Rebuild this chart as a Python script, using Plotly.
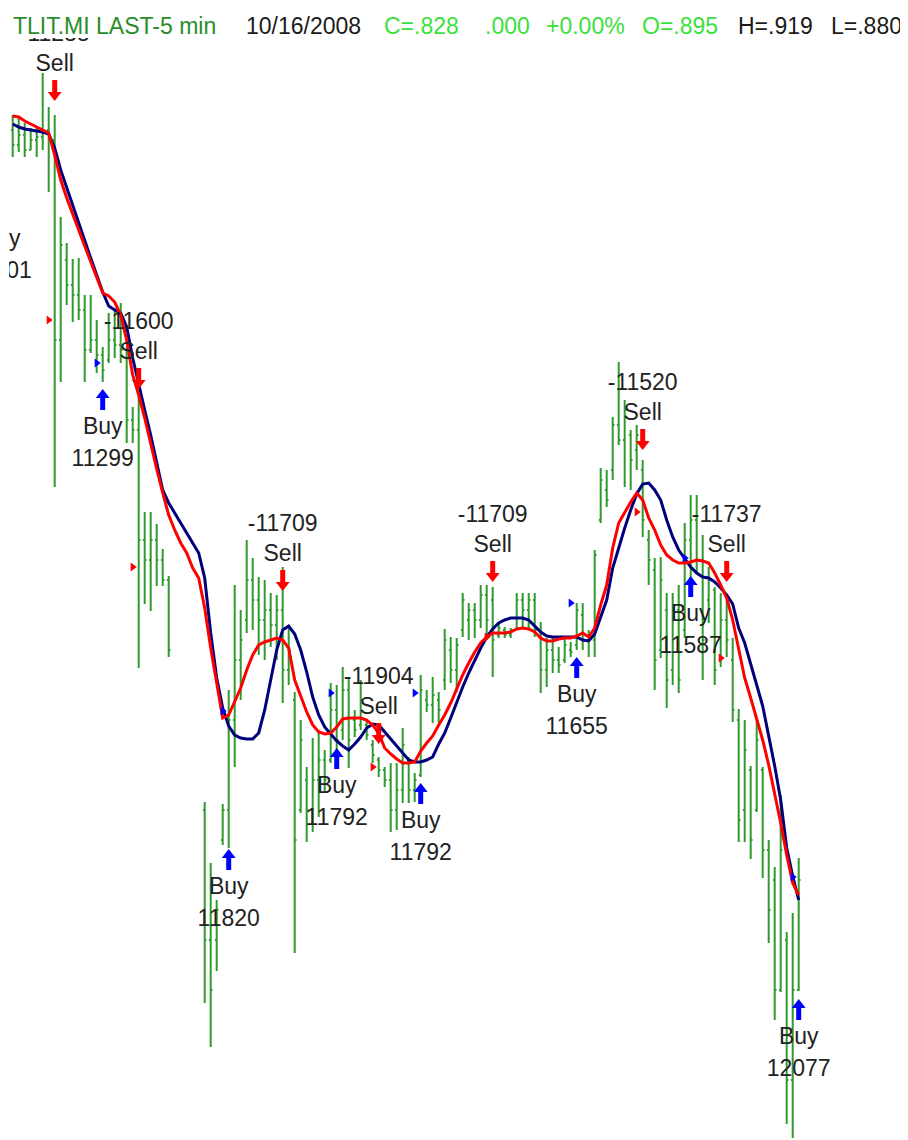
import plotly.graph_objects as go

# ---------------- data (price levels in chart units) ----------------
bar_no = list(range(0, 27)) + list(range(32, 132))

bar_high = [1025, 1022, 1017, 1012, 1012, 1067, 1033, 1025, 923, 897, 881, 882, 845, 845, 820, 793, 827, 832,
            837, 793, 733, 745, 628, 628, 616, 591, 564,
            338, 277, 240, 336, 450, 555, 530, 600, 582, 563, 560, 547, 545, 573, 513, 448, 420, 373, 402, 410,
            390, 457, 455, 473, 463, 430, 460, 420, 400, 383, 373, 377, 377, 412, 383, 367, 465, 450, 463, 448,
            511, 503, 502, 547, 537, 537, 555, 555, 553, 518, 513, 512, 547, 547, 547, 547, 518, 502, 502, 493,
            503, 498, 537, 537, 510, 590, 672, 670, 723, 778, 740, 710, 715, 680, 610, 582, 583, 547, 547, 555,
            617, 645, 645, 605, 573, 553, 547, 540, 502, 431, 420, 374, 420, 373, 300, 273, 345, 208, 227, 282]
bar_low = [983, 988, 983, 990, 983, 990, 948, 653, 758, 835, 818, 820, 758, 787, 767, 758, 777, 782,
           777, 697, 697, 472, 536, 529, 554, 554, 483,
           137, 93, 169, 295, 292, 373, 440, 507, 510, 485, 480, 493, 480, 437, 455, 187, 327, 298, 308, 323,
           347, 377, 373, 400, 372, 403, 410, 400, 377, 363, 353, 308, 310, 337, 337, 338, 363, 428, 417, 417,
           450, 457, 448, 503, 500, 502, 512, 500, 463, 502, 502, 502, 510, 513, 510, 503, 447, 453, 467, 467,
           477, 483, 490, 490, 483, 483, 617, 633, 660, 695, 653, 650, 670, 603, 555, 450, 482, 432, 455, 447,
           502, 557, 567, 460, 517, 455, 473, 483, 418, 298, 298, 281, 328, 262, 197, 120, 148, 16, 2, 149]
bar_open = [1010, 995, 1005, 990, 1000, 1003, 1010, 1000, 800, 880, 855, 845, 830, 790, 800, 785, 780, 800,
            795, 790, 720, 710, 600, 580, 600, 580, 560,
            330, 200, 200, 300, 330, 420, 480, 520, 560, 540, 520, 530, 515, 530, 470, 440, 330, 360, 330, 360,
            380, 380, 430, 410, 450, 420, 415, 415, 395, 380, 370, 360, 330, 350, 380, 350, 365, 440, 435, 440,
            460, 490, 470, 510, 520, 530, 520, 545, 540, 505, 510, 505, 510, 540, 530, 540, 510, 470, 490, 480,
            480, 490, 495, 525, 500, 500, 620, 650, 670, 715, 700, 705, 690, 670, 600, 570, 490, 530, 470, 530,
            510, 600, 620, 580, 540, 550, 480, 520, 480, 420, 330, 370, 330, 370, 290, 260, 150, 200, 60, 150]
bar_close = [995, 1005, 990, 1000, 1003, 1010, 1000, 800, 895, 855, 845, 830, 790, 800, 785, 770, 800, 795,
             790, 720, 710, 600, 580, 600, 580, 560, 490,
             200, 150, 230, 330, 420, 480, 500, 560, 540, 520, 530, 515, 530, 470, 490, 300, 400, 330, 360, 380,
             360, 430, 400, 450, 400, 410, 440, 405, 385, 370, 360, 330, 350, 395, 350, 360, 450, 435, 445, 430,
             500, 470, 495, 540, 530, 520, 545, 520, 500, 512, 505, 510, 540, 530, 540, 510, 470, 490, 480, 475,
             495, 488, 530, 500, 505, 585, 660, 640, 715, 700, 730, 680, 705, 620, 580, 480, 560, 460, 530, 460,
             600, 620, 580, 500, 560, 470, 520, 500, 430, 320, 390, 300, 400, 290, 230, 150, 290, 60, 150, 260]

ma_no = list(range(0, 132))
ma_fast = [1024, 1023, 1019, 1016, 1013, 1010, 1007, 985, 960, 942,
           927, 910, 894, 878, 862, 847, 844, 838, 825, 800,
           765, 745, 722, 695, 671, 647, 625, 610, 597, 587,
           572, 562, 532, 492, 458, 422, 425, 438, 452, 470,
           485, 495, 498, 500, 502, 500, 492, 460, 443, 428,
           415, 408, 406, 407, 413, 421, 422, 422, 422, 420,
           415, 407, 392, 386, 381, 377, 377, 378, 389, 397,
           404, 415, 425, 437, 452, 465, 477, 488, 497, 503,
           507, 507, 507, 508, 511, 512, 511, 508, 502, 499,
           499, 501, 502, 502, 504, 507, 503, 512, 535, 555,
           592, 617, 628, 638, 647, 640, 622, 610, 595, 585,
           580, 577, 577, 578, 580, 579, 577, 567, 555, 542,
           520, 490, 462, 442, 422, 400, 375, 347, 317, 285,
           257, 245]
ma_slow = [1016, 1013, 1011, 1010, 1009, 1008, 1006, 992, 970, 952,
           935, 918, 900, 882, 865, 848, 834, 830, 827, 813,
           782, 755, 730, 705, 678, 650, 637, 627, 618, 607,
           597, 587, 562, 507, 462, 432, 414, 405, 402, 401,
           401, 407, 430, 460, 490, 510, 514, 506, 490, 468,
           443, 425, 413, 406, 399, 394, 390, 396, 403, 412,
           416, 415, 408, 402, 394, 387, 380, 378, 378, 380,
           383, 396, 407, 422, 438, 453, 467, 480, 492, 503,
           511, 517, 520, 522, 522, 522, 520, 514, 508, 504,
           503, 503, 503, 503, 503, 500, 499, 506, 523, 540,
           572, 593, 612, 630, 646, 656, 657, 650, 640, 620,
           603, 590, 582, 573, 567, 563, 562, 558, 552, 545,
           536, 512, 497, 477, 455, 434, 405, 374, 340, 292,
           264, 240]

sell_bar = [7, 21, 45, 61, 80, 105, 119]
sell_level = [1048, 760, 558, 405, 567, 699, 567]
sell_text = ["-11288", "-11600", "-11709", "-11904", "-11709", "-11520", "-11737"]

buy_bar = [-2, 15, 36, 54, 68, 94, 113, 131]
buy_level = [930, 742, 282, 383, 348, 474, 555, 132]
buy_text = ["11301", "11299", "11820", "11792", "11792", "11655", "11587", "12077"]

stop_red_bar = [6, 20, 60, 79, 104, 118]
stop_red_level = [820, 573, 373, 503, 628, 482]
stop_blue_bar = [14, 35, 53, 67, 93, 112, 130]
stop_blue_level = [777, 429, 447, 447, 537, 582, 263]

header = [("TLIT.MI LAST-5 min", "#2a8c2a"), ("10/16/2008", "#1a1a1a"), ("C=.828", "#3ce03c"),
          (".000", "#3ce03c"), ("+0.00%", "#3ce03c"), ("O=.895", "#3ce03c"),
          ("H=.919", "#1a1a1a"), ("L=.880", "#1a1a1a")]
header_x = [12, 245, 383, 484, 545, 641, 737, 830]

# ---------------- layout constants ----------------
PAGE_OFF = 8                 # default body margin of the html page
VIEW_W, VIEW_H = 908, 1140
PLOT_LEFT, PLOT_TOP = 9, 38  # plot-area edges in the viewport
W, H = VIEW_W - PAGE_OFF, VIEW_H - PAGE_OFF
ML, MT = PLOT_LEFT - PAGE_OFF, PLOT_TOP - PAGE_OFF
PW, PH = W - ML, H - MT
PX_PER_BAR = 6.0
FIRST_BAR_PX = 12.7
X_LEFT = (PLOT_LEFT - FIRST_BAR_PX) / PX_PER_BAR
X_RIGHT = X_LEFT + PW / PX_PER_BAR
FONT = "Liberation Sans, Arial, sans-serif"
GREEN = "#2f9a2f"
TXT = "#222222"

fig = go.Figure()

fig.add_trace(go.Ohlc(
    x=bar_no, open=bar_open, high=bar_high, low=bar_low, close=bar_close,
    increasing=dict(line=dict(color=GREEN, width=2)),
    decreasing=dict(line=dict(color=GREEN, width=2)),
    tickwidth=0.3, showlegend=False, hoverinfo="skip"))

fig.add_trace(go.Scatter(x=ma_no, y=ma_slow, mode="lines",
                         line=dict(color="#00007c", width=3), showlegend=False, hoverinfo="skip"))
fig.add_trace(go.Scatter(x=ma_no, y=ma_fast, mode="lines",
                         line=dict(color="#ff0000", width=3), showlegend=False, hoverinfo="skip"))

fig.add_trace(go.Scatter(x=stop_red_bar, y=stop_red_level, mode="markers",
                         marker=dict(symbol="triangle-right", size=8, color="#ff0000"),
                         showlegend=False, hoverinfo="skip"))
fig.add_trace(go.Scatter(x=stop_blue_bar, y=stop_blue_level, mode="markers",
                         marker=dict(symbol="triangle-right", size=8, color="#0000ff"),
                         showlegend=False, hoverinfo="skip"))

# sell arrows (down)
fig.add_trace(go.Scatter(x=sell_bar, y=[v + 5 for v in sell_level], mode="markers",
                         marker=dict(symbol="line-ns", size=10, line=dict(width=5, color="#ff0000")),
                         showlegend=False, hoverinfo="skip"))
fig.add_trace(go.Scatter(x=sell_bar, y=[v - 3 for v in sell_level], mode="markers",
                         marker=dict(symbol="triangle-down", size=12, color="#ff0000", line=dict(width=0)),
                         showlegend=False, hoverinfo="skip"))
# buy arrows (up)
fig.add_trace(go.Scatter(x=buy_bar, y=[v - 5 for v in buy_level], mode="markers",
                         marker=dict(symbol="line-ns", size=10, line=dict(width=5, color="#0000ff")),
                         showlegend=False, hoverinfo="skip"))
fig.add_trace(go.Scatter(x=buy_bar, y=[v + 3 for v in buy_level], mode="markers",
                         marker=dict(symbol="triangle-up", size=12, color="#0000ff", line=dict(width=0)),
                         showlegend=False, hoverinfo="skip"))

tf = dict(family=FONT, size=23, color=TXT)
fig.add_trace(go.Scatter(x=sell_bar, y=[v + 27 for v in sell_level], mode="text",
                         text=["Sell"] * len(sell_bar), textfont=tf, cliponaxis=True,
                         showlegend=False, hoverinfo="skip"))
fig.add_trace(go.Scatter(x=sell_bar, y=[v + 57 for v in sell_level], mode="text",
                         text=sell_text, textfont=tf, cliponaxis=True,
                         showlegend=False, hoverinfo="skip"))
fig.add_trace(go.Scatter(x=buy_bar, y=[v - 30 for v in buy_level], mode="text",
                         text=["Buy"] * len(buy_bar), textfont=tf, cliponaxis=True,
                         showlegend=False, hoverinfo="skip"))
fig.add_trace(go.Scatter(x=buy_bar, y=[v - 62 for v in buy_level], mode="text",
                         text=buy_text, textfont=tf, cliponaxis=True,
                         showlegend=False, hoverinfo="skip"))

annotations = []
for (txt, col), xp in zip(header, header_x):
    annotations.append(dict(
        text=txt, xref="paper", yref="paper",
        x=(xp - PLOT_LEFT) / PW, y=1 + (PLOT_TOP - 26) / PH,
        xanchor="left", yanchor="middle", showarrow=False,
        font=dict(family=FONT, size=23, color=col), borderpad=0))

fig.update_layout(
    width=W, height=H,
    margin=dict(l=ML, r=0, t=MT, b=0, pad=0),
    paper_bgcolor="white", plot_bgcolor="white",
    showlegend=False,
    annotations=annotations,
    xaxis=dict(range=[X_LEFT, X_RIGHT], visible=False, rangeslider=dict(visible=False), fixedrange=True),
    yaxis=dict(range=[0, PH], visible=False, fixedrange=True),
)

fig.write_html("out.html")
